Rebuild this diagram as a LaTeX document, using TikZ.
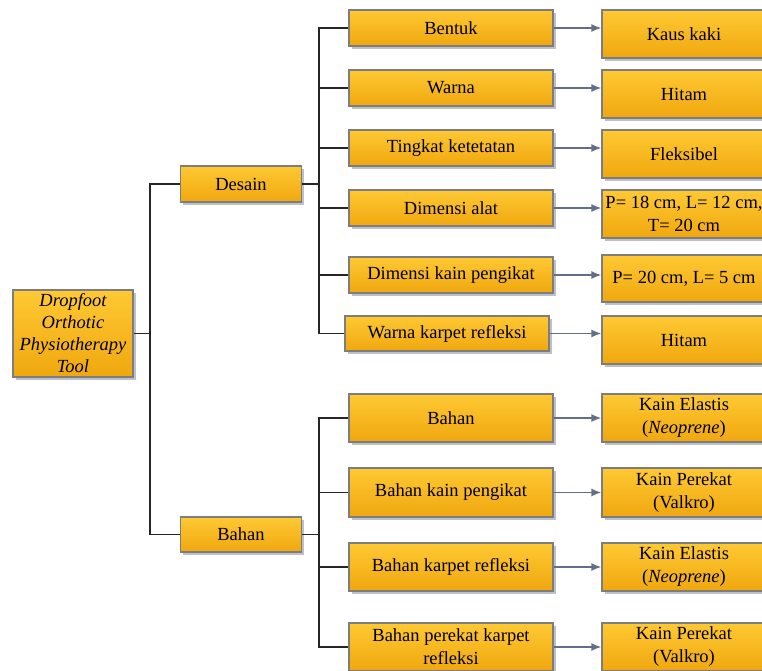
\documentclass[tikz,border=0pt]{standalone}
\usepackage{fontspec}
\setmainfont{Liberation Serif}
\usepackage{tikz}
\usetikzlibrary{arrows.meta,shadows}
\definecolor{boxtop}{RGB}{254,201,52}
\definecolor{boxbot}{RGB}{240,167,14}
\definecolor{boxline}{RGB}{125,125,125}
\definecolor{arrline}{RGB}{98,110,138}
\definecolor{shade}{RGB}{170,176,190}

\begin{document}
\begin{tikzpicture}[x=1pt,y=-1pt,
  box/.style={draw=boxline,line width=1.2pt,top color=boxtop,bottom color=boxbot,
    drop shadow={shadow xshift=2.5pt,shadow yshift=-2.5pt,fill=shade,opacity=0.8},
    inner sep=1pt,align=center,font=\fontsize{18.5}{23}\selectfont},
  lvla/.style={box,minimum width=121pt,minimum height=36pt},
  lvlb/.style={box,minimum width=204pt,minimum height=36pt},
  lvlc/.style={box,minimum width=164pt,minimum height=48pt},
  tree/.style={line width=1.2pt,black!85},
  arr/.style={arrline,line width=1.6pt,-{Latex[length=10pt,width=8pt]}}]
\useasboundingbox (0,0) rectangle (762,670);
\node[box,minimum width=120pt,minimum height=87pt,font=\fontsize{18.5}{22}\selectfont] (root) at (73,333.5)
  {\itshape Dropfoot\\\itshape Orthotic\\\itshape Physiotherapy\\\itshape Tool};
\node[lvla] (desain) at (241,184) {Desain};
\node[lvla,minimum height=35pt] (bahan) at (241,534.5) {Bahan};
\node[lvlb] (b1) at (451,28) {Bentuk};
\node[lvlb] (b2) at (451,88) {Warna};
\node[lvlb] (b3) at (451,148) {Tingkat ketetatan};
\node[lvlb] (b4) at (451,208) {Dimensi alat};
\node[lvlb] (b5) at (451,275) {Dimensi kain pengikat};
\node[lvlb,minimum height=35pt] (b6) at (447,333.5) {Warna karpet refleksi};
\node[lvlb,minimum height=48pt] (c1) at (451,418) {Bahan};
\node[lvlb,minimum height=49pt] (c2) at (451,492.5) {Bahan kain pengikat};
\node[lvlb,minimum height=48pt] (c3) at (451,567) {Bahan karpet refleksi};
\node[lvlb,minimum height=48pt] (c4) at (451,647) {Bahan perekat karpet\\refleksi};
\node[lvlc] (d1) at (684,34) {Kaus kaki};
\node[lvlc] (d2) at (684,94) {Hitam};
\node[lvlc] (d3) at (684,154) {Fleksibel};
\node[lvlc] (d4) at (684,214) {P= 18 cm, L= 12 cm,\\T= 20 cm};
\node[lvlc,minimum height=47pt] (d5) at (684,278.5) {P= 20 cm, L= 5 cm};
\node[lvlc] (d6) at (684,340) {Hitam};
\node[lvlc] (e1) at (684,418) {Kain Elastis\\(\textit{Neoprene})};
\node[lvlc,minimum height=49pt] (e2) at (684,492.5) {Kain Perekat\\(Valkro)};
\node[lvlc] (e3) at (684,567) {Kain Elastis\\(\textit{Neoprene})};
\node[lvlc] (e4) at (684,647) {Kain Perekat\\(Valkro)};
\coordinate (s0) at (150,0);
\coordinate (s1) at (319,0);
\draw[tree] (root.east) -- (root.east -| s0);
\draw[tree] (desain.west) -- (desain.west -| s0) |- (bahan.west);
\draw[tree] (desain.east) -- (desain.east -| s1);
\draw[tree] (bahan.east) -- (bahan.east -| s1);
\draw[tree] (b1.west) -- (b1.west -| s1) |- (b6.west);
\draw[tree] (c1.west) -- (c1.west -| s1) |- (c4.west);
\foreach \n in {b2,b3,b4,b5,c2,c3}
  \draw[tree] (\n.west) -- (\n.west -| s1);
\foreach \a/\b in {b1/d1,b2/d2,b3/d3,b4/d4,b5/d5,b6/d6,c1/e1,c2/e2,c3/e3,c4/e4}
  \draw[arr] (\a.east) -- (\a.east -| \b.west);
\end{tikzpicture}
\end{document}
